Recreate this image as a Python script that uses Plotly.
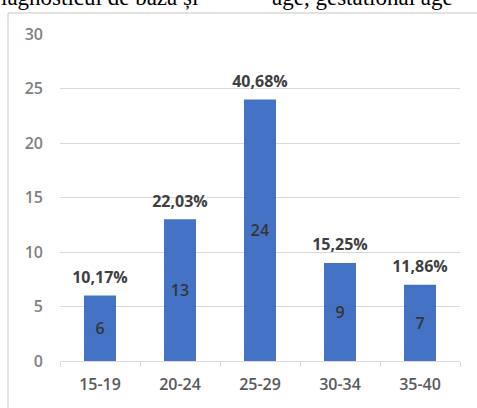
import plotly.graph_objects as go

# Age groups and number of patients per group
age_groups = ["15-19", "20-24", "25-29", "30-34", "35-40"]
patients = [6, 13, 24, 9, 7]
y_ticks = [0, 5, 10, 15, 20, 25, 30]

total = sum(patients)
percent_labels = [f"{v / total * 100:.2f}%".replace(".", ",") for v in patients]

W, H = 477, 408
L, R, T, B = 60, 17, 34, 47
plot_w = W - L - R
plot_h = H - T - B


def px_x(px):
    return (px - L) / plot_w


def px_y(py):
    return (H - B - py) / plot_h


fig = go.Figure()

fig.add_trace(go.Bar(
    x=age_groups,
    y=patients,
    marker=dict(color="#4472C4", line=dict(width=0)),
    text=[str(v) for v in patients],
    textposition="inside",
    insidetextanchor="middle",
    textfont=dict(family="Open Sans", size=16, color="#353535", weight=600),
    cliponaxis=False,
    hoverinfo="skip",
))

# percentage labels above the bars (invisible marker gives the gap)
fig.add_trace(go.Scatter(
    x=age_groups,
    y=patients,
    mode="markers+text",
    marker=dict(size=12, opacity=0),
    text=percent_labels,
    textposition="top center",
    textfont=dict(family="Open Sans", size=16, color="#404040", weight=700),
    cliponaxis=False,
    hoverinfo="skip",
))

fig.update_layout(
    width=W,
    height=H,
    margin=dict(l=L, r=R, t=T, b=B),
    paper_bgcolor="white",
    plot_bgcolor="white",
    showlegend=False,
    bargap=0.6,
    xaxis=dict(
        showgrid=False,
        showline=True,
        linecolor="#d9d9d9",
        linewidth=1,
        ticks="outside",
        tickson="boundaries",
        ticklen=5,
        tickcolor="#d9d9d9",
        ticklabelstandoff=9,
        tickfont=dict(family="Open Sans", size=16, color="#595959", weight=600),
    ),
    yaxis=dict(
        range=[0, 30],
        tickvals=y_ticks,
        showgrid=True,
        gridcolor="#d9d9d9",
        gridwidth=1,
        zeroline=False,
        showline=False,
        ticks="",
        ticklabelstandoff=16,
        tickfont=dict(family="Open Sans", size=16, color="#7f7f7f", weight=600),
    ),
    shapes=[
        # chart frame: top and left edges
        dict(type="line", xref="paper", yref="paper",
             x0=px_x(8), x1=px_x(480), y0=px_y(13), y1=px_y(13),
             line=dict(color="#d9d9d9", width=1.5)),
        dict(type="line", xref="paper", yref="paper",
             x0=px_x(8), x1=px_x(8), y0=px_y(13), y1=px_y(412),
             line=dict(color="#d9d9d9", width=1.5)),
    ],
    annotations=[
        dict(text="iagnosticul de bază și", xref="paper", yref="paper",
             x=px_x(-1), y=px_y(12), xanchor="left", yanchor="bottom",
             showarrow=False,
             font=dict(family="Liberation Serif", size=23, color="#000000")),
        dict(text="age, gestational age", xref="paper", yref="paper",
             x=px_x(270), y=px_y(12), xanchor="left", yanchor="bottom",
             showarrow=False,
             font=dict(family="Liberation Serif", size=23, color="#000000")),
    ],
)

fig.write_html("out.html")
